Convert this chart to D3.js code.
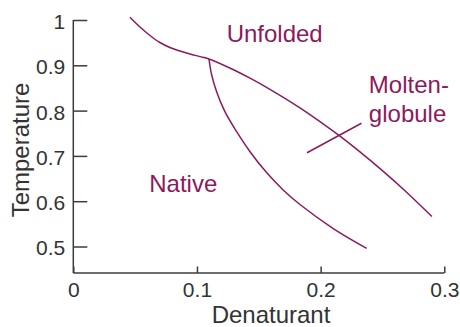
<!DOCTYPE html>
<html><head><meta charset="utf-8">
<script src="https://cdn.jsdelivr.net/npm/d3@7"></script>
<style>
html,body{margin:0;padding:0;background:#fff;}
svg text{font-family:"Liberation Sans",Arial,Helvetica,sans-serif;}
</style></head>
<body><svg id="c" width="460" height="327"></svg>
<script>
// Data
const xTicks = [0, 0.1, 0.2, 0.3];
const yTicks = [0.5, 0.6, 0.7, 0.8, 0.9, 1];
const xTickLabels = ["0", "0.1", "0.2", "0.3"];
const yTickLabels = ["0.5", "0.6", "0.7", "0.8", "0.9", "1"];
// Upper boundary: native/unfolded then molten-globule/unfolded
const upperX = [0.0458, 0.0539, 0.0620, 0.0700, 0.0781, 0.0862, 0.0943, 0.1024, 0.1097, 0.1291, 0.1429, 0.1590, 0.1833, 0.2140, 0.2318, 0.2504, 0.2682, 0.2900];
const upperY = [1.006, 0.9845, 0.9658, 0.9503, 0.9393, 0.9316, 0.9249, 0.9192, 0.9139, 0.8907, 0.8715, 0.8470, 0.8060, 0.7468, 0.7088, 0.6664, 0.6232, 0.5662];
// Native / molten-globule boundary
const lowerX = [0.1097, 0.1119, 0.1159, 0.1226, 0.1321, 0.1429, 0.1563, 0.1695, 0.1833, 0.2102, 0.2372];
const lowerY = [0.9139, 0.8786, 0.8417, 0.7976, 0.7534, 0.7093, 0.6631, 0.6254, 0.5927, 0.5397, 0.4960];
// Pointer line for molten-globule label
const pointerX = [0.189, 0.233];
const pointerY = [0.707, 0.772];
const regionLabels = ["Unfolded", "Native", "Molten-", "globule"];
const regionLabelX = [0.124, 0.0614, 0.239, 0.239];
const regionLabelY = [0.952, 0.621, 0.839, 0.775];
const xTitle = "Denaturant";
const yTitle = "Temperature";

const purple = "#8c1a5c";
const axisCol = "#3c3c3c";
const svg = d3.select("#c");
const x = d3.scaleLinear().domain([0, 0.3]).range([73.3, 444.3]);
const y = d3.scaleLinear().domain([0.5, 1]).range([246.5, 20]);
const yBottom = 273;

// axes
const xAxis = d3.axisBottom(x).tickValues(xTicks).tickSizeInner(-6.5).tickSizeOuter(0)
  .tickFormat((d, i) => xTickLabels[i]).tickPadding(9.5);
const gx = svg.append("g").attr("transform", `translate(0,${yBottom})`).call(xAxis);
gx.select(".domain").attr("d", `M${x(0)},0H${x(0.3)}`);
const yAxis = d3.axisLeft(y).tickValues(yTicks).tickSizeInner(-14).tickSizeOuter(0)
  .tickFormat((d, i) => yTickLabels[i]).tickPadding(8);
const gy = svg.append("g").attr("transform", `translate(${x(0)},0)`).call(yAxis);
gy.select(".domain").attr("d", `M0,${y(1)}V${yBottom}`);
[gx, gy].forEach(g => {
  g.selectAll(".domain, .tick line").attr("stroke", axisCol).attr("stroke-width", 1.5);
  g.selectAll(".tick text").attr("fill", "#333").attr("font-size", 21)
    .attr("font-family", "Liberation Sans, Arial, sans-serif");
});
gy.selectAll(".tick text").attr("dy", "0.4em");
gx.selectAll(".tick text").attr("dy", "0.71em");

// titles
svg.append("text").attr("x", 271).attr("y", 323).attr("text-anchor", "middle")
  .attr("font-size", 24).attr("fill", "#333").text(xTitle);
svg.append("text").attr("transform", "translate(29,150) rotate(-90)").attr("text-anchor", "middle")
  .attr("font-size", 24).attr("fill", "#333").text(yTitle);

// curves
const line = d3.line().x(d => x(d[0])).y(d => y(d[1])).curve(d3.curveCatmullRom.alpha(0.5));
const straight = d3.line().x(d => x(d[0])).y(d => y(d[1]));
svg.append("path").datum(upperX.map((v, i) => [v, upperY[i]])).attr("d", line)
  .attr("fill", "none").attr("stroke", purple).attr("stroke-width", 1.5);
svg.append("path").datum(lowerX.map((v, i) => [v, lowerY[i]])).attr("d", line)
  .attr("fill", "none").attr("stroke", purple).attr("stroke-width", 1.5);
svg.append("path").datum(pointerX.map((v, i) => [v, pointerY[i]])).attr("d", straight)
  .attr("fill", "none").attr("stroke", purple).attr("stroke-width", 1.5);

// region labels
svg.selectAll("text.region").data(regionLabels).enter().append("text").attr("class", "region")
  .attr("x", (d, i) => x(regionLabelX[i])).attr("y", (d, i) => y(regionLabelY[i]))
  .attr("font-size", 24).attr("fill", purple).text(d => d);
</script></body></html>
